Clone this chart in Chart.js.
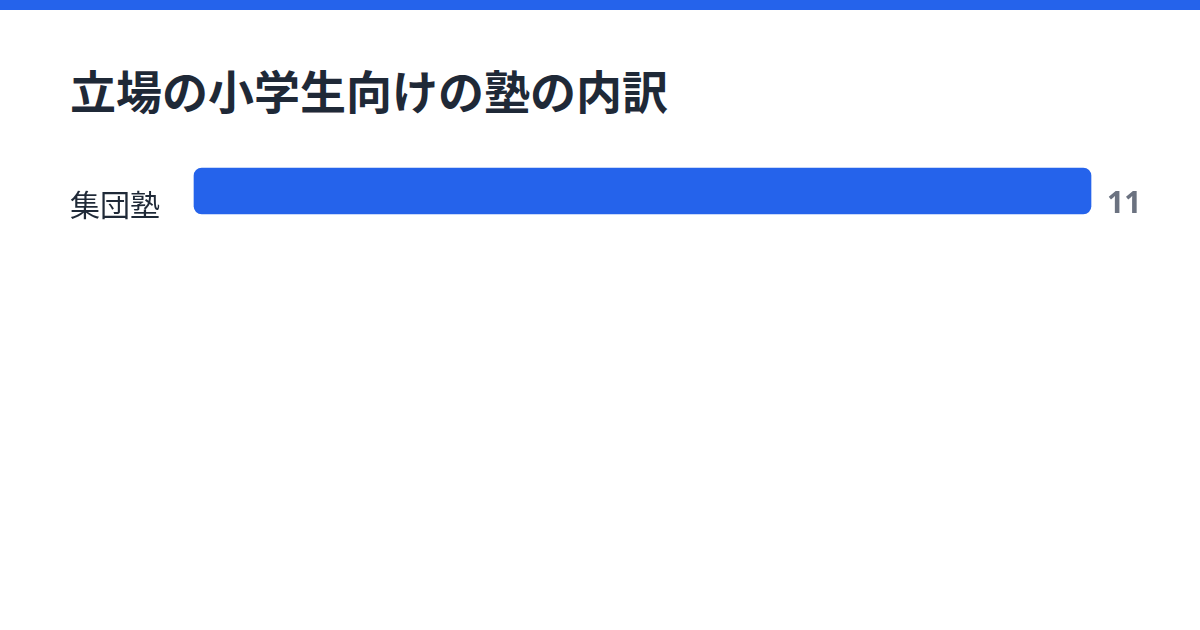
<!DOCTYPE html>
<html lang="ja">
<head>
<meta charset="utf-8">
<script src="https://cdn.jsdelivr.net/npm/chart.js@4"></script>
<style>
  html, body { margin: 0; padding: 0; background: #fff; }
  body { width: 1200px; height: 630px; position: relative; overflow: hidden; font-family: "Noto Sans CJK JP", "Noto Sans", sans-serif; }
  .topbar { position: absolute; left: 0; top: 0; width: 1200px; height: 10px; background: #2563eb; }
  h1 { position: absolute; left: 70px; top: 66px; margin: 0; font-size: 46px; line-height: 46px; font-weight: 700; color: #1f2937; }
  .wrap { position: absolute; left: 70px; top: 130px; width: 1080px; height: 122px; }
</style>
</head>
<body>
<div class="topbar"></div>
<h1>立場の小学生向けの塾の内訳</h1>
<div class="wrap"><canvas id="chart"></canvas></div>
<script>
const categories = ['集団塾'];
const counts = [11];

// 棒の右に値を描く
const valueLabels = {
    id: 'valueLabels',
    afterDatasetsDraw(chart) {
        const c = chart.ctx;
        const meta = chart.getDatasetMeta(0);
        c.save();
        c.font = 'bold 30px "Noto Sans", "Noto Sans CJK JP", sans-serif';
        c.fillStyle = '#6b7280';
        c.textAlign = 'left';
        c.textBaseline = 'alphabetic';
        meta.data.forEach((bar, i) => {
            c.fillText(String(counts[i]), bar.x + 16, bar.y + 22);
        });
        c.restore();
    }
};

new Chart(document.getElementById('chart'), {
    type: 'bar',
    data: {
        labels: categories,
        datasets: [{
            data: counts,
            backgroundColor: '#2563eb',
            borderRadius: 8,
            borderSkipped: false,
            barThickness: 46,
            clip: false
        }]
    },
    options: {
        indexAxis: 'y',
        responsive: true,
        maintainAspectRatio: false,
        animation: false,
        layout: { padding: { right: 59, top: 0, bottom: 0, left: 0 } },
        plugins: { legend: { display: false }, tooltip: { enabled: false } },
        scales: {
            x: { display: false, min: 0, max: 11 },
            y: {
                grid: { display: false },
                border: { display: false },
                afterFit(scale) { scale.width = 124; },
                ticks: {
                    crossAlign: 'far',
                    labelOffset: 14,
                    color: '#1f2937',
                    font: { family: '"Noto Sans CJK JP", sans-serif', size: 30 }
                }
            }
        }
    },
    plugins: [valueLabels]
});
</script>
</body>
</html>
